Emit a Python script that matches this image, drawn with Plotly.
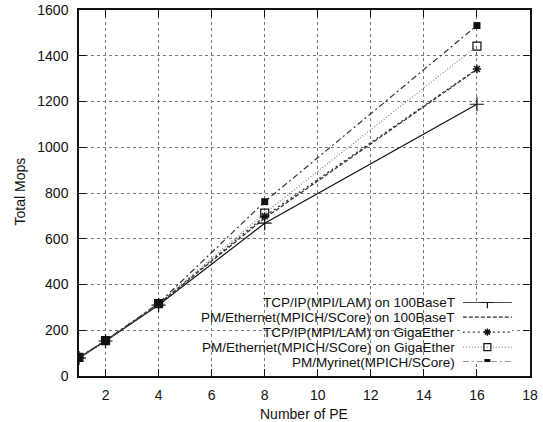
import plotly.graph_objects as go

# ---- data ----
pe = [1, 2, 4, 8, 16]
tcp_100 = [79, 153, 310, 668, 1188]
pm_eth_100 = [80, 154, 314, 690, 1340]
tcp_giga = [80, 155, 315, 698, 1342]
pm_giga = [81, 155, 316, 712, 1442]
pm_myri = [81, 155, 318, 762, 1532]

names = [
    "TCP/IP(MPI/LAM) on 100BaseT",
    "PM/Ethernet(MPICH/SCore) on 100BaseT",
    "TCP/IP(MPI/LAM) on GigaEther",
    "PM/Ethernet(MPICH/SCore) on GigaEther",
    "PM/Myrinet(MPICH/SCore)",
]
series = [tcp_100, pm_eth_100, tcp_giga, pm_giga, pm_myri]

x_ticks = [2, 4, 6, 8, 10, 12, 14, 16, 18]
y_ticks = [0, 200, 400, 600, 800, 1000, 1200, 1400, 1600]
x_title = "Number of PE"
y_title = "Total Mops"

# ---- styles ----
styles = [
    dict(color="#111111", dash="solid", width=1.2, symbol="cross-thin-open", size=10, mfill=None, mlw=1.2),
    dict(color="#2a2a2a", dash="4px,2px", width=1.2, symbol=None, size=0, mfill=None, mlw=0),
    dict(color="#3a3a3a", dash="2px,3px", width=1.4, symbol="asterisk-open", size=7, mfill=None, mlw=1.5),
    dict(color="#808080", dash="1px,2px", width=1.2, symbol="square-open", size=8, mfill=None, mlw=1.2),
    dict(color="#333333", dash="6px,3px,2px,3px", width=1.2, symbol="square", size=7, mfill="#111111", mlw=0),
]

FONT = "Liberation Sans, Arial, Helvetica, sans-serif"

fig = go.Figure()

for nm, ys, st in zip(names, series, styles):
    fig.add_trace(go.Scatter(
        x=pe, y=ys, mode="lines", name=nm, showlegend=False,
        line=dict(color=st["color"], dash=st["dash"], width=st["width"]),
    ))
for nm, ys, st in zip(names, series, styles):
    if st["symbol"] is None:
        continue
    mk = dict(symbol=st["symbol"], size=st["size"], color=st["mfill"] or "#111111",
              line=dict(color="#111111", width=st["mlw"]))
    fig.add_trace(go.Scatter(x=pe, y=ys, mode="markers", showlegend=False, marker=mk,
                             hoverinfo="skip"))

# ---- custom legend (text on left, sample on right) ----
for i, (nm, st) in enumerate(zip(names, styles)):
    fig.add_trace(go.Scatter(
        x=[0, 1], y=[i, i], mode="lines", xaxis="x2", yaxis="y2", showlegend=False,
        line=dict(color=st["color"], dash=st["dash"], width=st["width"]), hoverinfo="skip",
    ))
    if st["symbol"] is not None:
        fig.add_trace(go.Scatter(
            x=[0.5], y=[i], mode="markers", xaxis="x2", yaxis="y2", showlegend=False,
            marker=dict(symbol=st["symbol"], size=max(st["size"] - 1, 6), color=st["mfill"] or "#111111",
                        line=dict(color="#111111", width=st["mlw"])), hoverinfo="skip",
        ))
    fig.add_annotation(
        text=nm, xref="paper", yref="y2", x=0.838, y=i, xanchor="right", yanchor="middle",
        showarrow=False, font=dict(family=FONT, size=13.5, color="#111111"),
    )

# axis titles as annotations for exact placement
fig.add_annotation(text=x_title, xref="paper", yref="paper", x=0.498, y=-0.104,
                   xanchor="center", yanchor="middle", showarrow=False,
                   font=dict(family=FONT, size=14, color="#111111"))
fig.add_annotation(text=y_title, xref="paper", yref="paper", x=-0.131, y=0.504,
                   xanchor="center", yanchor="middle", showarrow=False, textangle=-90,
                   font=dict(family=FONT, size=14, color="#111111"))

axis_common = dict(
    showline=True, linecolor="#111111", linewidth=1.5, mirror="allticks",
    ticks="inside", ticklen=7, tickwidth=1.2, tickcolor="#111111",
    showgrid=True, gridcolor="#777777", gridwidth=1, griddash="dot",
    zeroline=False, automargin=False,
    tickfont=dict(family=FONT, size=14, color="#111111"),
)

fig.update_layout(
    width=543, height=422,
    margin=dict(l=79, r=13, t=10, b=46),
    paper_bgcolor="white", plot_bgcolor="white",
    showlegend=False,
    font=dict(family=FONT, color="#111111"),
    xaxis=dict(range=[1, 18], tickvals=x_ticks, ticklabelstandoff=5, **axis_common),
    yaxis=dict(range=[0, 1600], tickvals=y_ticks, ticklabelstandoff=6, **axis_common),
    xaxis2=dict(domain=[0.851, 0.96], range=[0, 1], anchor="y2", visible=False),
    yaxis2=dict(domain=[0.038, 0.202], range=[4, 0], anchor="x2", visible=False),
)

fig.write_html("out.html")
